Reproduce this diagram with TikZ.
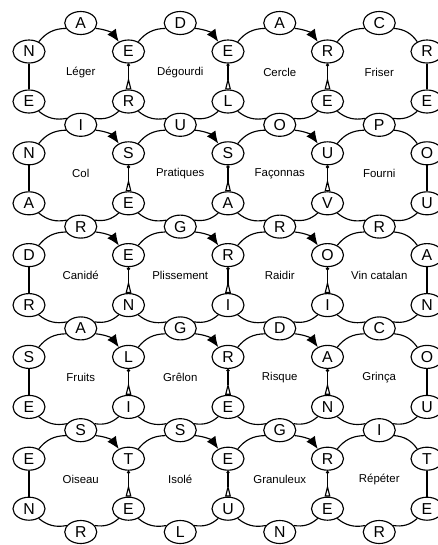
\documentclass[tikz,border=0pt]{standalone}
\usepackage{fontspec}
\setmainfont{Liberation Sans}
\usetikzlibrary{arrows.meta,shapes.geometric}

\begin{document}
\begin{tikzpicture}[x=0.02cm,y=-0.02cm,line width=0.65pt,
  letter/.style={draw,ellipse,inner sep=0pt,minimum width=0.64cm,minimum height=0.46cm,font=\fontsize{9}{9}\selectfont},
  word/.style={font=\fontsize{6.5}{7}\selectfont},
  rim/.style={bend left=25},
  turn/.style={-{Latex[length=7pt,width=6pt]}},
  joint/.style={{Circle[length=1.8pt]}-{Triangle[open,reversed,length=7pt,width=3.2pt]}}]
\useasboundingbox (0,0) rectangle (438,545);

% letters on top and bottom of the rings
\foreach \r/\row in {0/{A,D,A,C},1/{I,U,O,P},2/{R,G,R,R},3/{A,G,D,C},4/{S,S,G,I},5/{R,L,N,R}}
  \foreach \l [count=\c] in \row
    \node[letter] (h-\c-\r) at (80.75+99.5*\c-99.5,23+101.8*\r) {\l};

% letters on the sides
\foreach \r/\up/\lo in {1/{N,E,E,R,R}/{E,R,L,E,E},2/{N,S,S,U,O}/{A,E,A,V,U},3/{D,E,R,O,A}/{R,N,I,I,N},4/{S,L,R,A,O}/{E,I,E,N,U},5/{E,T,E,R,T}/{N,E,U,E,E}}{
  \foreach \l [count=\k from 0] in \up
    \node[letter] (v-\k-\r-a) at (29+99.5*\k,23+101.8*\r-101.8+28.5) {\l};
  \foreach \l [count=\k from 0] in \lo
    \node[letter] (v-\k-\r-b) at (29+99.5*\k,23+101.8*\r-101.8+78.5) {\l};
}

% words
\foreach \r/\row in {1/{Léger,Dégourdi,Cercle,Friser},2/{Col,Pratiques,Façonnas,Fourni},3/{Canidé,Plissement,Raidir,Vin catalan},4/{Fruits,Grêlon,Risque,Grinça},5/{Oiseau,Isolé,Granuleux,Répéter}}
  \foreach \w [count=\c] in \row
    \node[word] (w-\c-\r) at (80.75+99.5*\c-99.5,23+101.8*\r-101.8+49) {\w};

% rings
\foreach \r [evaluate=\r as \q using int(\r-1)] in {1,...,5}{
  \draw (v-0-\r-b) -- (v-0-\r-a) (v-4-\r-a) -- (v-4-\r-b);
  \foreach \c [evaluate=\c as \p using int(\c-1)] in {1,...,4}{
    \draw (v-\p-\r-a.45) to[rim] (h-\c-\q.200);
    \draw (v-\c-\r-b.225) to[rim] (h-\c-\r.25);
    \draw (h-\c-\r.155) to[rim] (v-\p-\r-b.315);
  }
  \foreach \c in {1,2,3}{
    \draw[turn] (h-\c-\q.340) to[rim] (v-\c-\r-a.135);
    \draw[joint] (v-\c-\r-a) -- (v-\c-\r-b);
  }
  \draw (h-4-\q.340) to[rim] (v-4-\r-a.135);
}
\end{tikzpicture}
\end{document}
